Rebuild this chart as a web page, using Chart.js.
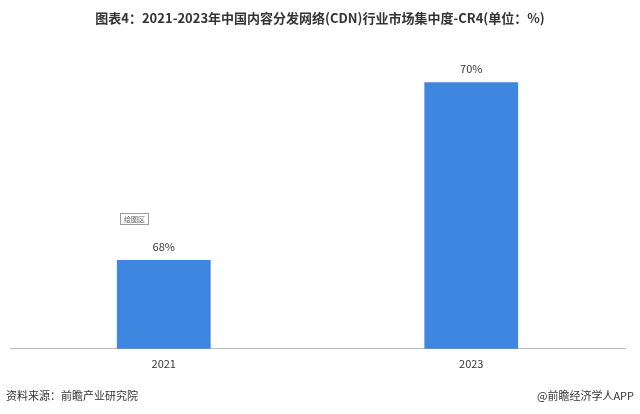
<!DOCTYPE html>
<html lang="zh">
<head>
<meta charset="UTF-8">
<script src="https://cdn.jsdelivr.net/npm/chart.js"></script>
<style>
  html, body { margin: 0; padding: 0; background: #fff; }
  #wrap { width: 640px; height: 414px; position: relative; }
</style>
</head>
<body>
<div id="wrap"><canvas id="c"></canvas></div>
<script>
const years = ['2021', '2023'];
const cr4 = [68, 70];
const titleText = '图表4：2021-2023年中国内容分发网络(CDN)行业市场集中度-CR4(单位：%)';
const sourceText = '资料来源：前瞻产业研究院';
const brandText = '@前瞻经济学人APP';
const font = '"Noto Sans CJK SC", "Noto Sans", sans-serif';

// 标题、数值标签、来源
const textPlugin = {
  id: 'texts',
  afterDraw(chart) {
    const ctx = chart.ctx;
    ctx.save();
    ctx.fillStyle = '#333';
    ctx.font = 'bold 13px ' + font;
    ctx.textAlign = 'center';
    ctx.textBaseline = 'middle';
    ctx.fillText(titleText, 320, 18);

    const meta = chart.getDatasetMeta(0);
    ctx.font = '11px ' + font;
    meta.data.forEach((bar, i) => {
      ctx.fillText(cr4[i] + '%', bar.x, bar.y - 13);
    });

    // 绘图区 小标签
    ctx.strokeStyle = '#999';
    ctx.lineWidth = 1;
    ctx.strokeRect(120.5, 213.5, 28, 11);
    ctx.font = '7px ' + font;
    ctx.fillStyle = '#555';
    ctx.fillText('绘图区', 134.5, 219);

    ctx.fillStyle = '#333';
    ctx.font = '11px ' + font;
    ctx.textAlign = 'left';
    ctx.fillText(sourceText, 6, 396);
    ctx.textAlign = 'right';
    ctx.fillText(brandText, 634, 396);
    ctx.restore();
  }
};

new Chart(document.getElementById('c'), {
  type: 'bar',
  data: {
    labels: years,
    datasets: [{
      data: cr4,
      backgroundColor: '#3f86e0',
      barPercentage: 0.61,
      categoryPercentage: 0.5
    }]
  },
  options: {
    responsive: true,
    maintainAspectRatio: false,
    animation: false,
    layout: { padding: { top: 60, left: 10, right: 15, bottom: 36 } },
    plugins: { legend: { display: false }, tooltip: { enabled: false } },
    scales: {
      x: {
        grid: { display: false, drawTicks: false },
        border: { color: '#bbb' },
        ticks: { color: '#333', font: { size: 11, family: font }, padding: 8 }
      },
      y: {
        display: false,
        min: 67,
        max: 70.25
      }
    }
  },
  plugins: [textPlugin]
});
</script>
</body>
</html>
